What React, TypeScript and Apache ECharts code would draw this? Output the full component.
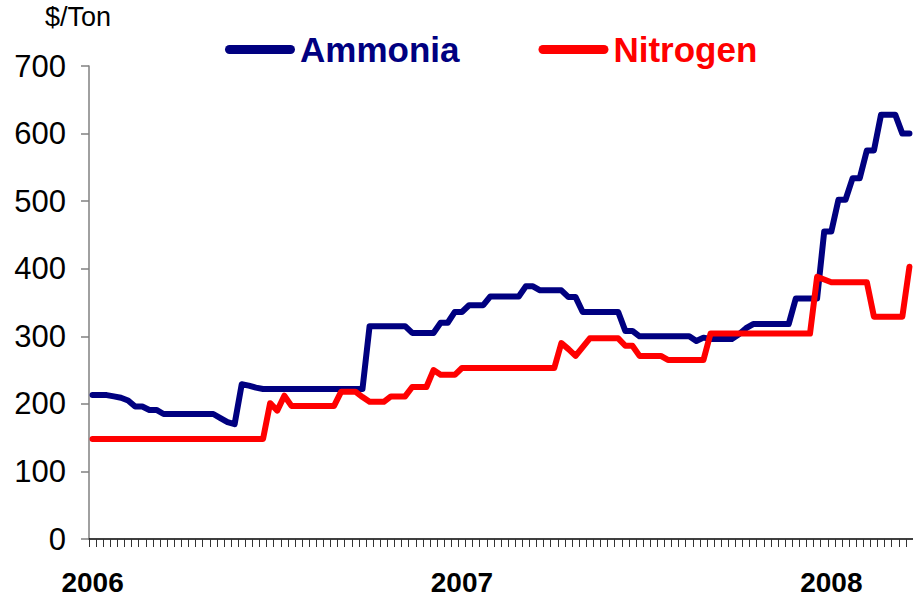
import React, { useEffect, useRef } from "react";
import * as echarts from "echarts";

const yearLabels = ["2006", "2007", "2008"];
const yearLabelWeeks = [0, 52, 104];

const ammonia = [
  213, 213, 213, 211, 209, 205, 196, 196, 191, 191,
  185, 185, 185, 185, 185, 185, 185, 185, 179, 173,
  170, 229, 227, 224, 222, 222, 222, 222, 222, 222,
  222, 222, 222, 222, 222, 222, 222, 222, 222, 315,
  315, 315, 315, 315, 315, 305, 305, 305, 305, 320,
  320, 336, 336, 346, 346, 346, 359, 359, 359, 359,
  359, 374, 374, 368, 368, 368, 368, 358, 358, 336,
  336, 336, 336, 336, 336, 308, 308, 300, 300, 300,
  300, 300, 300, 300, 300, 293, 298, 296, 296, 296,
  296, 303, 312, 318, 318, 318, 318, 318, 318, 356,
  356, 356, 356, 455, 455, 502, 502, 534, 534, 575,
  575, 628, 628, 628, 600, 600,
];

const nitrogen = [
  148, 148, 148, 148, 148, 148, 148, 148, 148, 148,
  148, 148, 148, 148, 148, 148, 148, 148, 148, 148,
  148, 148, 148, 148, 148, 201, 190, 212, 197, 197,
  197, 197, 197, 197, 197, 218, 218, 218, 210, 203,
  203, 203, 211, 211, 211, 225, 225, 225, 250, 243,
  243, 243, 253, 253, 253, 253, 253, 253, 253, 253,
  253, 253, 253, 253, 253, 253, 290, 281, 271, 284,
  297, 297, 297, 297, 297, 286, 286, 271, 271, 271,
  271, 265, 265, 265, 265, 265, 265, 304, 304, 304,
  304, 304, 304, 304, 304, 304, 304, 304, 304, 304,
  304, 304, 388, 384, 380, 380, 380, 380, 380, 380,
  329, 329, 329, 329, 329, 403,
];

const weeks = ammonia.map((_, i) => `W${i + 1}`);

const FONT = '"Liberation Sans", Arial, sans-serif';
const legendIcon =
  "path://M4.5,0H65.5A4.5,4.5,0,0,1,65.5,9H4.5A4.5,4.5,0,0,1,4.5,0Z";

export default function App() {
  const ref = useRef<HTMLDivElement>(null);
  useEffect(() => {
    const chart = echarts.init(ref.current!, null, { renderer: "svg" });
    chart.setOption({
      animation: false,
      backgroundColor: "#ffffff",
      textStyle: { fontFamily: FONT },
      grid: { left: 89, right: -5, top: 66, bottom: 65, containLabel: false },
      graphic: [
        {
          type: "text",
          left: 45,
          top: 3,
          style: { text: "$/Ton", fontSize: 27, fill: "#000", fontFamily: FONT },
        },
      ],
      legend: {
        left: 220,
        top: 27,
        itemWidth: 70,
        itemHeight: 9,
        itemGap: 79,
        icon: legendIcon,
        textStyle: { fontSize: 35, fontWeight: "bold", fontFamily: FONT },
        data: [
          { name: "Ammonia", textStyle: { color: "#000080" } },
          { name: "Nitrogen", textStyle: { color: "#FF0000" } },
        ],
      },
      xAxis: {
        type: "category",
        data: weeks,
        boundaryGap: true,
        axisLine: { lineStyle: { color: "#000", width: 1.5 } },
        axisTick: {
          show: true,
          interval: 0,
          length: 8,
          lineStyle: { color: "#333", width: 1 },
        },
        axisLabel: {
          interval: 0,
          margin: 29,
          fontSize: 28,
          fontWeight: "bold",
          color: "#000",
          fontFamily: FONT,
          formatter: (_v: string, idx: number) => {
            const k = yearLabelWeeks.indexOf(idx);
            return k >= 0 ? yearLabels[k] : "";
          },
        },
        splitLine: { show: false },
      },
      yAxis: {
        type: "value",
        min: 0,
        max: 700,
        interval: 100,
        axisLine: { show: true, lineStyle: { color: "#808080", width: 1.5 } },
        axisTick: { show: true, length: 8, lineStyle: { color: "#808080", width: 1.5 } },
        axisLabel: { fontSize: 31, color: "#000", margin: 23, fontFamily: FONT },
        splitLine: { show: false },
      },
      series: [
        {
          name: "Ammonia",
          type: "line",
          data: ammonia,
          showSymbol: false,
          symbol: "none",
          itemStyle: { color: "#000080" },
          lineStyle: { color: "#000080", width: 6, cap: "round", join: "round" },
        },
        {
          name: "Nitrogen",
          type: "line",
          data: nitrogen,
          showSymbol: false,
          symbol: "none",
          itemStyle: { color: "#FF0000" },
          lineStyle: { color: "#FF0000", width: 6, cap: "round", join: "round" },
        },
      ],
    });
    return () => chart.dispose();
  }, []);
  return (
    <div
      ref={ref}
      style={{ position: "fixed", left: 0, top: 0, width: 913, height: 604 }}
    />
  );
}
